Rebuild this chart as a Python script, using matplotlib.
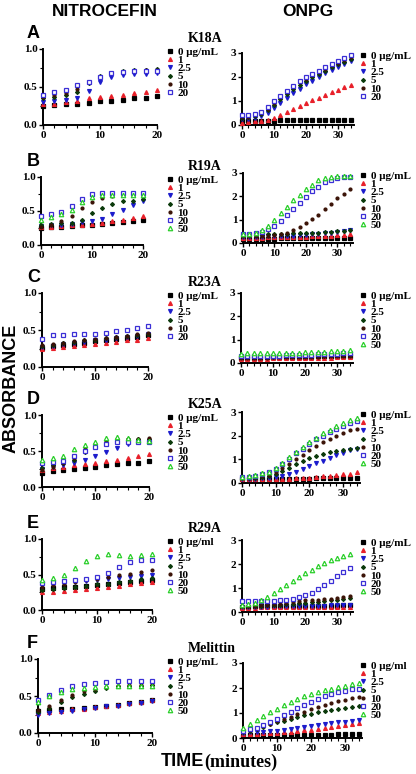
import matplotlib
matplotlib.use("Agg")
import matplotlib.pyplot as plt
from matplotlib.lines import Line2D
import numpy as np

W, H = 416, 774

# ---------------- data ----------------
t_nitro = [0, 2, 4, 6, 8, 10, 12, 14, 16, 18, 20]
t_onpg = [0, 2, 4, 6, 8, 10, 12, 14, 16, 18, 20, 22, 24, 26, 28, 30, 32, 34]
conc_labels = ["0 \u03bcg/mL", "1", "2.5", "5", "10", "20", "50"]
mutants = ["K18A", "R19A", "R23A", "K25A", "R29A", "Melittin"]
panel_letters = ["A", "B", "C", "D", "E", "F"]

A_nitro = [
    [0.25, 0.26, 0.27, 0.28, 0.29, 0.31, 0.32, 0.33, 0.35, 0.36, 0.38],
    [0.27, 0.28, 0.30, 0.32, 0.35, 0.37, 0.38, 0.40, 0.42, 0.44, 0.46],
    [0.30, 0.31, 0.33, 0.36, 0.45, 0.56, 0.63, 0.66, 0.67, 0.67, 0.68],
    [0.35, 0.37, 0.40, 0.44, 0.55, 0.64, 0.69, 0.71, 0.72, 0.73, 0.74],
    [0.37, 0.39, 0.42, 0.47, 0.57, 0.63, 0.69, 0.70, 0.71, 0.72, 0.72],
    [0.40, 0.43, 0.46, 0.52, 0.57, 0.63, 0.68, 0.70, 0.71, 0.71, 0.71],
]
A_onpg = [
    [0.15, 0.16, 0.17, 0.17, 0.18, 0.18, 0.19, 0.19, 0.19, 0.20, 0.20, 0.20, 0.21, 0.21, 0.21, 0.22, 0.22, 0.22],
    [0.10, 0.12, 0.15, 0.18, 0.22, 0.30, 0.42, 0.55, 0.67, 0.80, 0.92, 1.03, 1.14, 1.25, 1.36, 1.47, 1.57, 1.67],
    [0.25, 0.27, 0.30, 0.38, 0.50, 0.70, 0.90, 1.12, 1.33, 1.52, 1.70, 1.85, 2.00, 2.15, 2.30, 2.43, 2.55, 2.65],
    [0.30, 0.32, 0.36, 0.45, 0.62, 0.85, 1.08, 1.30, 1.50, 1.68, 1.82, 1.98, 2.12, 2.27, 2.42, 2.53, 2.63, 2.73],
    [0.33, 0.35, 0.40, 0.50, 0.68, 0.92, 1.15, 1.38, 1.58, 1.78, 1.92, 2.08, 2.22, 2.35, 2.48, 2.60, 2.72, 2.85],
    [0.40, 0.42, 0.46, 0.55, 0.75, 0.98, 1.20, 1.42, 1.62, 1.82, 1.98, 2.12, 2.27, 2.42, 2.55, 2.67, 2.80, 2.92],
]

B_nitro = [
    [0.25, 0.26, 0.27, 0.28, 0.29, 0.30, 0.31, 0.33, 0.34, 0.35, 0.37],
    [0.26, 0.27, 0.28, 0.29, 0.30, 0.31, 0.33, 0.35, 0.37, 0.40, 0.43],
    [0.28, 0.29, 0.30, 0.31, 0.34, 0.35, 0.38, 0.45, 0.52, 0.59, 0.65],
    [0.30, 0.31, 0.32, 0.33, 0.37, 0.47, 0.55, 0.61, 0.64, 0.65, 0.67],
    [0.27, 0.30, 0.35, 0.42, 0.54, 0.63, 0.69, 0.72, 0.73, 0.74, 0.74],
    [0.42, 0.45, 0.49, 0.57, 0.67, 0.75, 0.77, 0.77, 0.77, 0.77, 0.77],
    [0.37, 0.41, 0.46, 0.52, 0.63, 0.71, 0.73, 0.74, 0.74, 0.74, 0.74],
]
B_onpg = [
    [0.18, 0.18, 0.19, 0.19, 0.19, 0.19, 0.20, 0.20, 0.20, 0.20, 0.20, 0.21, 0.21, 0.21, 0.21, 0.22, 0.22, 0.22],
    [0.22, 0.22, 0.23, 0.23, 0.24, 0.24, 0.25, 0.25, 0.26, 0.26, 0.27, 0.28, 0.29, 0.30, 0.32, 0.34, 0.36, 0.38],
    [0.25, 0.25, 0.26, 0.27, 0.28, 0.29, 0.30, 0.31, 0.32, 0.34, 0.36, 0.38, 0.40, 0.42, 0.45, 0.48, 0.51, 0.55],
    [0.35, 0.35, 0.36, 0.36, 0.37, 0.38, 0.39, 0.40, 0.41, 0.42, 0.43, 0.44, 0.45, 0.47, 0.49, 0.50, 0.52, 0.54],
    [0.30, 0.30, 0.30, 0.31, 0.32, 0.34, 0.37, 0.45, 0.57, 0.70, 0.86, 1.04, 1.21, 1.46, 1.69, 1.93, 2.12, 2.32],
    [0.38, 0.40, 0.42, 0.48, 0.58, 0.75, 0.95, 1.20, 1.47, 1.72, 1.98, 2.22, 2.42, 2.60, 2.72, 2.80, 2.82, 2.83],
    [0.38, 0.40, 0.45, 0.55, 0.72, 0.97, 1.27, 1.55, 1.83, 2.07, 2.30, 2.50, 2.68, 2.78, 2.85, 2.87, 2.87, 2.87],
]

C_nitro = [
    [0.26, 0.28, 0.30, 0.31, 0.33, 0.35, 0.36, 0.38, 0.39, 0.41, 0.43],
    [0.25, 0.26, 0.27, 0.28, 0.30, 0.31, 0.33, 0.34, 0.36, 0.37, 0.39],
    [0.27, 0.29, 0.31, 0.33, 0.34, 0.36, 0.37, 0.39, 0.40, 0.42, 0.44],
    [0.28, 0.30, 0.32, 0.34, 0.36, 0.37, 0.39, 0.40, 0.42, 0.43, 0.45],
    [0.30, 0.31, 0.33, 0.35, 0.36, 0.38, 0.39, 0.41, 0.42, 0.44, 0.46],
    [0.38, 0.43, 0.43, 0.44, 0.45, 0.45, 0.46, 0.48, 0.50, 0.53, 0.56],
]
C_onpg = [
    [0.22, 0.22, 0.23, 0.23, 0.24, 0.24, 0.25, 0.25, 0.26, 0.26, 0.27, 0.27, 0.28, 0.29, 0.30, 0.30, 0.31, 0.32],
    [0.18, 0.18, 0.19, 0.19, 0.19, 0.20, 0.20, 0.20, 0.21, 0.21, 0.22, 0.22, 0.22, 0.23, 0.23, 0.24, 0.24, 0.25],
    [0.25, 0.26, 0.26, 0.27, 0.28, 0.28, 0.29, 0.30, 0.30, 0.31, 0.32, 0.33, 0.33, 0.34, 0.35, 0.36, 0.37, 0.38],
    [0.25, 0.25, 0.26, 0.26, 0.27, 0.27, 0.28, 0.28, 0.29, 0.30, 0.30, 0.31, 0.31, 0.32, 0.33, 0.33, 0.34, 0.35],
    [0.22, 0.22, 0.22, 0.23, 0.23, 0.24, 0.24, 0.25, 0.25, 0.26, 0.26, 0.27, 0.27, 0.28, 0.28, 0.29, 0.29, 0.30],
    [0.28, 0.29, 0.29, 0.30, 0.31, 0.31, 0.32, 0.33, 0.34, 0.34, 0.35, 0.36, 0.37, 0.38, 0.39, 0.40, 0.41, 0.42],
    [0.40, 0.42, 0.41, 0.42, 0.42, 0.42, 0.43, 0.43, 0.44, 0.44, 0.45, 0.46, 0.47, 0.48, 0.50, 0.51, 0.53, 0.55],
]

D_nitro = [
    [0.20, 0.22, 0.23, 0.25, 0.27, 0.28, 0.30, 0.32, 0.33, 0.34, 0.36],
    [0.24, 0.26, 0.28, 0.30, 0.32, 0.34, 0.36, 0.38, 0.40, 0.43, 0.46],
    [0.25, 0.28, 0.30, 0.33, 0.37, 0.43, 0.48, 0.54, 0.60, 0.62, 0.64],
    [0.27, 0.30, 0.33, 0.38, 0.48, 0.56, 0.63, 0.66, 0.67, 0.67, 0.67],
    [0.24, 0.28, 0.33, 0.40, 0.53, 0.60, 0.63, 0.65, 0.67, 0.67, 0.68],
    [0.33, 0.35, 0.36, 0.43, 0.50, 0.56, 0.60, 0.62, 0.62, 0.62, 0.63],
    [0.37, 0.40, 0.43, 0.53, 0.59, 0.63, 0.68, 0.70, 0.68, 0.65, 0.64],
]
D_onpg = [
    [0.15, 0.16, 0.16, 0.17, 0.17, 0.18, 0.18, 0.18, 0.19, 0.19, 0.19, 0.20, 0.20, 0.20, 0.21, 0.21, 0.22, 0.22],
    [0.15, 0.15, 0.16, 0.17, 0.17, 0.18, 0.18, 0.19, 0.20, 0.21, 0.23, 0.25, 0.28, 0.30, 0.33, 0.36, 0.40, 0.45],
    [0.18, 0.18, 0.19, 0.20, 0.22, 0.25, 0.30, 0.38, 0.48, 0.60, 0.72, 0.83, 0.95, 1.07, 1.17, 1.28, 1.38, 1.45],
    [0.20, 0.20, 0.22, 0.25, 0.30, 0.38, 0.50, 0.65, 0.80, 0.93, 1.05, 1.15, 1.23, 1.30, 1.35, 1.40, 1.43, 1.47],
    [0.20, 0.22, 0.25, 0.28, 0.33, 0.45, 0.62, 0.80, 1.00, 1.20, 1.40, 1.58, 1.75, 1.88, 2.00, 2.12, 2.22, 2.30],
    [0.25, 0.27, 0.30, 0.38, 0.45, 0.60, 0.80, 1.02, 1.25, 1.45, 1.65, 1.85, 2.00, 2.15, 2.30, 2.42, 2.52, 2.60],
    [0.25, 0.28, 0.32, 0.42, 0.45, 0.65, 0.85, 1.08, 1.30, 1.52, 1.73, 1.92, 2.10, 2.25, 2.40, 2.55, 2.65, 2.75],
]

E_nitro = [
    [0.30, 0.31, 0.32, 0.33, 0.34, 0.35, 0.37, 0.38, 0.40, 0.41, 0.42],
    [0.25, 0.26, 0.27, 0.28, 0.29, 0.31, 0.32, 0.34, 0.36, 0.38, 0.40],
    [0.36, 0.38, 0.39, 0.40, 0.41, 0.42, 0.44, 0.45, 0.46, 0.48, 0.50],
    [0.28, 0.30, 0.31, 0.33, 0.34, 0.36, 0.37, 0.39, 0.41, 0.43, 0.45],
    [0.33, 0.35, 0.37, 0.40, 0.42, 0.44, 0.47, 0.49, 0.51, 0.54, 0.57],
    [0.38, 0.40, 0.41, 0.42, 0.44, 0.46, 0.52, 0.61, 0.67, 0.70, 0.71],
    [0.42, 0.45, 0.49, 0.59, 0.69, 0.76, 0.79, 0.78, 0.76, 0.78, 0.79],
]
E_onpg = [
    [0.22, 0.22, 0.23, 0.23, 0.23, 0.24, 0.24, 0.24, 0.25, 0.25, 0.25, 0.26, 0.26, 0.26, 0.27, 0.27, 0.28, 0.28],
    [0.18, 0.18, 0.18, 0.19, 0.19, 0.19, 0.19, 0.20, 0.20, 0.20, 0.20, 0.21, 0.21, 0.21, 0.21, 0.22, 0.22, 0.22],
    [0.20, 0.21, 0.21, 0.22, 0.22, 0.23, 0.23, 0.24, 0.24, 0.25, 0.25, 0.26, 0.27, 0.27, 0.28, 0.29, 0.29, 0.30],
    [0.25, 0.25, 0.26, 0.27, 0.28, 0.29, 0.30, 0.32, 0.34, 0.36, 0.38, 0.40, 0.43, 0.46, 0.49, 0.52, 0.55, 0.58],
    [0.25, 0.26, 0.27, 0.28, 0.30, 0.32, 0.35, 0.38, 0.42, 0.45, 0.48, 0.50, 0.52, 0.54, 0.56, 0.60, 0.63, 0.67],
    [0.45, 0.45, 0.46, 0.46, 0.47, 0.47, 0.48, 0.49, 0.55, 0.62, 0.70, 0.80, 0.95, 1.12, 1.30, 1.48, 1.65, 1.82],
    [0.30, 0.33, 0.38, 0.48, 0.62, 0.78, 0.95, 1.12, 1.28, 1.45, 1.62, 1.77, 1.90, 2.03, 2.15, 2.25, 2.33, 2.42],
]

F_nitro = [
    [0.30, 0.31, 0.32, 0.33, 0.34, 0.35, 0.36, 0.38, 0.40, 0.42, 0.44],
    [0.27, 0.29, 0.30, 0.32, 0.33, 0.35, 0.37, 0.38, 0.40, 0.42, 0.44],
    [0.25, 0.27, 0.29, 0.30, 0.32, 0.34, 0.36, 0.37, 0.39, 0.41, 0.43],
    [0.28, 0.34, 0.42, 0.48, 0.53, 0.57, 0.61, 0.63, 0.64, 0.64, 0.65],
    [0.31, 0.37, 0.45, 0.52, 0.57, 0.60, 0.62, 0.64, 0.65, 0.65, 0.65],
    [0.44, 0.51, 0.58, 0.63, 0.66, 0.68, 0.69, 0.70, 0.70, 0.70, 0.70],
    [0.42, 0.50, 0.56, 0.59, 0.61, 0.62, 0.63, 0.64, 0.64, 0.64, 0.64],
]
F_onpg = [
    [0.10, 0.11, 0.11, 0.12, 0.12, 0.12, 0.13, 0.13, 0.13, 0.13, 0.14, 0.14, 0.14, 0.14, 0.15, 0.15, 0.15, 0.15],
    [0.15, 0.17, 0.18, 0.19, 0.20, 0.22, 0.24, 0.26, 0.28, 0.31, 0.34, 0.37, 0.40, 0.44, 0.48, 0.52, 0.56, 0.60],
    [0.22, 0.23, 0.24, 0.25, 0.27, 0.30, 0.33, 0.37, 0.41, 0.45, 0.49, 0.53, 0.57, 0.60, 0.63, 0.66, 0.69, 0.72],
    [0.25, 0.30, 0.38, 0.46, 0.55, 0.63, 0.70, 0.78, 0.85, 0.92, 0.98, 1.03, 1.08, 1.13, 1.18, 1.22, 1.26, 1.30],
    [0.28, 0.33, 0.40, 0.50, 0.58, 0.67, 0.76, 0.85, 0.95, 1.05, 1.15, 1.23, 1.32, 1.40, 1.47, 1.53, 1.60, 1.65],
    [0.30, 0.35, 0.42, 0.52, 0.65, 0.78, 0.92, 1.05, 1.20, 1.33, 1.45, 1.57, 1.68, 1.78, 1.85, 1.90, 1.95, 1.98],
    [0.40, 0.58, 0.72, 0.88, 1.03, 1.18, 1.32, 1.45, 1.57, 1.68, 1.78, 1.85, 1.92, 1.98, 2.05, 2.10, 2.15, 2.20],
]

nitro_sets = [A_nitro, B_nitro, C_nitro, D_nitro, E_nitro, F_nitro]
onpg_sets = [A_onpg, B_onpg, C_onpg, D_onpg, E_onpg, F_onpg]
legend_first = [("0 \u03bcg/mL", "0 \u03bcg/mL"), ("0 \u03bcg/mL", "0 \u03bcg/mL"),
                ("0 \u03bcg/mL", "0 \u03bcg/mL"), ("0 \u03bcg/mL", "0 \u03bcg/mL"),
                ("0 \u03bcg/ml", "0 \u03bcg/mL"), ("0 \u03bcg/mL", "0 \u03bcg/ml")]

# ---------------- styles ----------------
styles = [
    dict(marker="s", color="#000000", mfc="#000000", ms=2.3),
    dict(marker="^", color="#e8202a", mfc="#e8202a", ms=2.8),
    dict(marker="v", color="#1c1ccc", mfc="#1c1ccc", ms=2.8),
    dict(marker="D", color="#0b3a0b", mfc="#0b3a0b", ms=2.0),
    dict(marker="o", color="#3a1206", mfc="#3a1206", ms=2.1),
    dict(marker="s", color="#3b2fd6", mfc="white", ms=2.8),
    dict(marker="^", color="#2bcf2b", mfc="white", ms=3.2),
]

# axes boxes in pixels: (x0, x1, ytop, ybottom)
left_boxes = [(43, 157, 49, 125), (41, 143, 177, 245), (42, 148, 293, 367),
              (42, 149, 415, 487), (42, 152, 539, 610), (38, 152, 659, 733)]
right_boxes = [(242, 354, 53, 125), (243, 353, 173, 243), (241, 353, 293, 363),
               (242, 360, 412, 483), (242, 353, 540, 612), (243, 362, 663, 738)]

serif_b = dict(family="Liberation Serif", weight="bold")
sans_b = dict(family="Liberation Sans", weight="bold")

fig = plt.figure(figsize=(W / 100, H / 100), dpi=100)


def fx(x):
    return x / W


def fy(y):
    return 1 - y / H


def make_ax(box):
    x0, x1, yt, yb = box
    return fig.add_axes([fx(x0), fy(yb), (x1 - x0) / W, (yb - yt) / H])


def style_ax(ax, kind):
    for s in ["top", "right"]:
        ax.spines[s].set_visible(False)
    for s in ["left", "bottom"]:
        ax.spines[s].set_linewidth(1.4)
    ax.tick_params(which="major", direction="out", length=3, width=1, pad=1, labelsize=8)
    ax.tick_params(which="minor", direction="out", length=2, width=0.8)
    if kind == "nitro":
        ax.set_xlim(0, 20)
        ax.set_ylim(0, 1)
        ax.set_xticks([0, 10, 20])
        ax.set_xticks(t_nitro, minor=True)
        ax.set_yticks([0, 0.5, 1.0])
        ax.set_yticklabels(["0.0", "0.5", "1.0"])
        ax.set_yticks([0.25, 0.75], minor=True)
    else:
        ax.set_xlim(0, 35)
        ax.set_ylim(0, 3)
        ax.set_xticks([0, 10, 20, 30])
        ax.set_xticks(t_onpg, minor=True)
        ax.set_yticks([0, 1, 2, 3])
    for lab in ax.get_xticklabels() + ax.get_yticklabels():
        lab.set_fontfamily("Liberation Serif")
        lab.set_fontweight("bold")


def add_legend(ax, n, first, xpix, ypix):
    handles = []
    labels = []
    for i in range(n):
        st = styles[i]
        handles.append(Line2D([], [], linestyle="none", marker=st["marker"],
                              color=st["color"], mfc=st["mfc"], ms=st["ms"],
                              mew=0.9))
        labels.append(first if i == 0 else conc_labels[i])
    leg = ax.legend(handles, labels, loc="upper left",
                    bbox_to_anchor=(fx(xpix), fy(ypix)),
                    bbox_transform=fig.transFigure, frameon=False,
                    borderpad=0, borderaxespad=0, handlelength=0.6,
                    handletextpad=0.35, labelspacing=-0.14,
                    prop=dict(family="Liberation Serif", weight="bold", size=8))
    return leg


for r in range(6):
    axl = make_ax(left_boxes[r])
    axr = make_ax(right_boxes[r])
    nl = len(nitro_sets[r])
    nr = len(onpg_sets[r])
    for i in range(nl):
        st = styles[i]
        axl.plot(t_nitro, nitro_sets[r][i], linestyle="none", marker=st["marker"],
                 color=st["color"], mfc=st["mfc"], ms=st["ms"], mew=0.9,
                 clip_on=False, zorder=3)
    for i in range(nr):
        st = styles[i]
        axr.plot(t_onpg, onpg_sets[r][i], linestyle="none", marker=st["marker"],
                 color=st["color"], mfc=st["mfc"], ms=st["ms"], mew=0.9,
                 clip_on=False, zorder=3)
    style_ax(axl, "nitro")
    style_ax(axr, "onpg")
    add_legend(axl, nl, legend_first[r][0], 167, left_boxes[r][2] - 2)
    add_legend(axr, nr, legend_first[r][1], 360, right_boxes[r][2] - 2)
    # panel letter
    fig.text(fx(27), fy(left_boxes[r][2] - 16), panel_letters[r], fontsize=13,
             ha="left", va="center", **sans_b)
    # mutant label
    fig.text(fx(188), fy(left_boxes[r][2] - 11), mutants[r], fontsize=10,
             ha="left", va="center", **serif_b)

fig.text(fx(105), fy(12), "NITROCEFIN", fontsize=12.5, ha="center", va="center", **sans_b)
fig.text(fx(308), fy(12), "ONPG", fontsize=12.5, ha="center", va="center", **sans_b)
fig.text(fx(11), fy(388), "ABSORBANCE", fontsize=13, rotation=90, ha="center",
         va="center", **sans_b)
fig.text(fx(204), fy(762), "TIME", fontsize=13, ha="right", va="center", **sans_b)
fig.text(fx(204), fy(762), "(minutes)", fontsize=13, ha="left", va="center", **serif_b)

fig.savefig("out.png", dpi=100)
